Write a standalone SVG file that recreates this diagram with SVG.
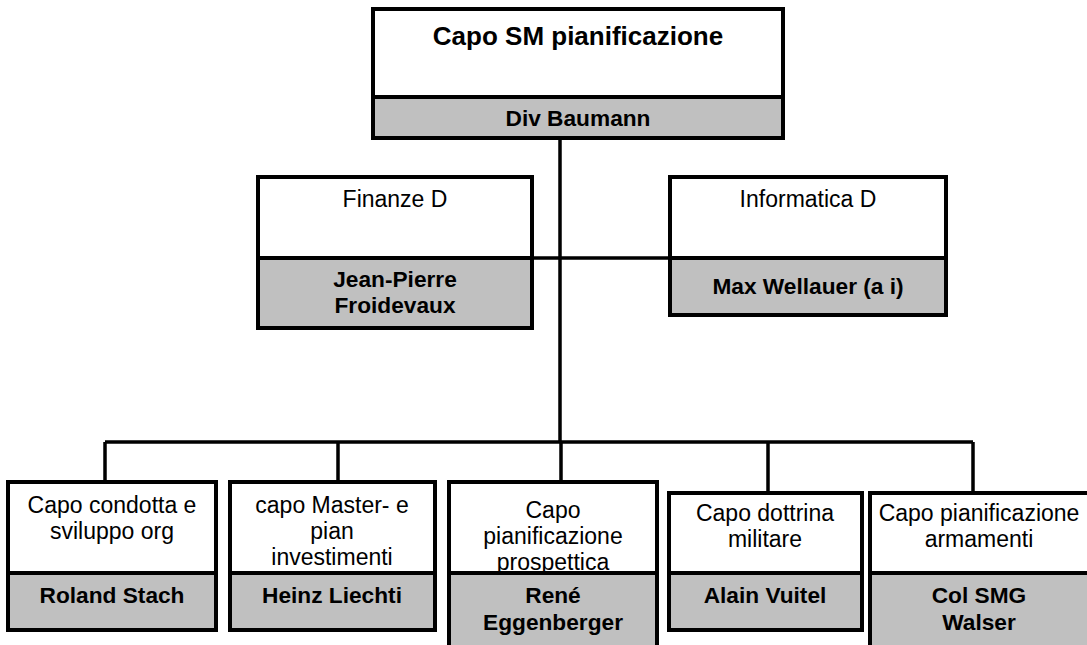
<svg xmlns="http://www.w3.org/2000/svg" width="1087" height="645" viewBox="0 0 1087 645">
<style>
.w{fill:#fff;stroke:#000;stroke-width:4}
.g{fill:#c0c0c0;stroke:#000;stroke-width:4}
.c{fill:none;stroke:#000;stroke-width:3.5}
.t{font-family:"Liberation Sans",Arial,sans-serif;font-size:23px;text-anchor:middle;fill:#000}
.b{font-family:"Liberation Sans",Arial,sans-serif;font-size:22.7px;font-weight:bold;text-anchor:middle;fill:#000}
.h{font-family:"Liberation Sans",Arial,sans-serif;font-size:26px;font-weight:bold;text-anchor:middle;fill:#000}
</style>
<rect width="1087" height="645" fill="#fff"/>
<g id="connectors">
<path class="c" d="M560 138V442M532 258H670M105 442H973M105 442V482M338 442V482M561 442V482M768 442V493M973 442V493"/>
</g>
<g id="n-top">
<rect class="w" x="373" y="9" width="410" height="88"/>
<rect class="g" x="373" y="97" width="410" height="41"/>
<text class="h" x="578" y="45">Capo SM pianificazione</text>
<text class="b" x="578" y="126">Div Baumann</text>
</g>
<g id="n-finanze">
<rect class="w" x="258" y="177" width="274" height="81"/>
<rect class="g" x="258" y="258" width="274" height="70"/>
<text class="t" x="395" y="207">Finanze D</text>
<text class="b" x="395" y="287">Jean-Pierre</text>
<text class="b" x="395" y="313">Froidevaux</text>
</g>
<g id="n-informatica">
<rect class="w" x="670" y="177" width="276" height="81"/>
<rect class="g" x="670" y="258" width="276" height="57"/>
<text class="t" x="808" y="207">Informatica D</text>
<text class="b" x="808" y="294">Max Wellauer (a i)</text>
</g>
<g id="n-stach">
<rect class="w" x="8" y="482" width="208" height="91"/>
<rect class="g" x="8" y="573" width="208" height="57"/>
<text class="t" x="112" y="513">Capo condotta e</text>
<text class="t" x="112" y="539">sviluppo org</text>
<text class="b" x="112" y="603">Roland Stach</text>
</g>
<g id="n-liechti">
<rect class="w" x="230" y="482" width="205" height="91"/>
<rect class="g" x="230" y="573" width="205" height="57"/>
<text class="t" x="332" y="513">capo Master- e</text>
<text class="t" x="332" y="539">pian</text>
<text class="t" x="332" y="565">investimenti</text>
<text class="b" x="332" y="603">Heinz Liechti</text>
</g>
<g id="n-eggenberger">
<rect class="w" x="449" y="482" width="208" height="91"/>
<text class="t" x="553" y="518">Capo</text>
<text class="t" x="553" y="544">pianificazione</text>
<text class="t" x="553" y="570">prospettica</text>
<rect class="g" x="449" y="573" width="208" height="80"/>
<text class="b" x="553" y="603">René</text>
<text class="b" x="553" y="630">Eggenberger</text>
</g>
<g id="n-vuitel">
<rect class="w" x="669" y="493" width="193" height="80"/>
<rect class="g" x="669" y="573" width="193" height="57"/>
<text class="t" x="765" y="521">Capo dottrina</text>
<text class="t" x="765" y="547">militare</text>
<text class="b" x="765" y="603">Alain Vuitel</text>
</g>
<g id="n-walser">
<rect class="w" x="870" y="493" width="222" height="80"/>
<rect class="g" x="870" y="573" width="222" height="80"/>
<text class="t" x="979" y="521">Capo pianificazione</text>
<text class="t" x="979" y="547">armamenti</text>
<text class="b" x="979" y="603">Col SMG</text>
<text class="b" x="979" y="630">Walser</text>
</g>
</svg>
